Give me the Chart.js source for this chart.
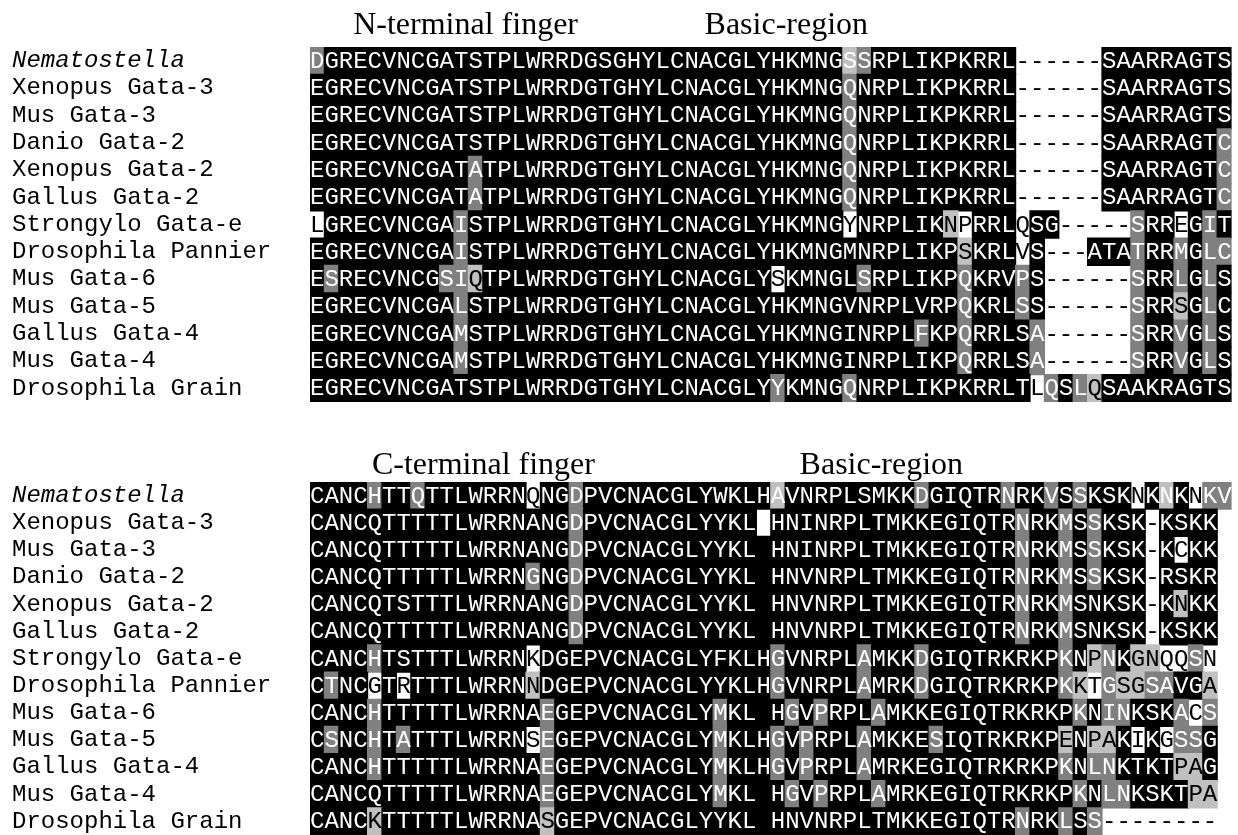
<!DOCTYPE html>
<html>
<head>
<meta charset="utf-8">
<script src="https://cdn.jsdelivr.net/npm/chart.js@4.4.1/dist/chart.umd.min.js"></script>
<style>
  html, body { margin: 0; padding: 0; background: #fff; }
  #wrap { position: relative; width: 1238px; height: 835px; overflow: hidden; }
  .box { position: absolute; left: 0; width: 1238px; }
</style>
</head>
<body>
<div id="wrap">
  <div class="box" style="top:0;height:415px"><canvas id="chartTop" width="1238" height="415"></canvas></div>
  <div class="box" style="top:415px;height:420px"><canvas id="chartBottom" width="1238" height="420"></canvas></div>
</div>
<script>
// row labels (same for both blocks)
var species = [
  "Nematostella", "Xenopus Gata-3", "Mus Gata-3", "Danio Gata-2",
  "Xenopus Gata-2", "Gallus Gata-2", "Strongylo Gata-e", "Drosophila Pannier",
  "Mus Gata-6", "Mus Gata-5", "Gallus Gata-4", "Mus Gata-4", "Drosophila Grain"
];

// N-terminal finger block
var topSeqs = [
  "DGRECVNCGATSTPLWRRDGSGHYLCNACGLYHKMNGSSRPLIKPKRRL------SAARRAGTS",
  "EGRECVNCGATSTPLWRRDGTGHYLCNACGLYHKMNGQNRPLIKPKRRL------SAARRAGTS",
  "EGRECVNCGATSTPLWRRDGTGHYLCNACGLYHKMNGQNRPLIKPKRRL------SAARRAGTS",
  "EGRECVNCGATSTPLWRRDGTGHYLCNACGLYHKMNGQNRPLIKPKRRL------SAARRAGTC",
  "EGRECVNCGATATPLWRRDGTGHYLCNACGLYHKMNGQNRPLIKPKRRL------SAARRAGTC",
  "EGRECVNCGATATPLWRRDGTGHYLCNACGLYHKMNGQNRPLIKPKRRL------SAARRAGTC",
  "LGRECVNCGAISTPLWRRDGTGHYLCNACGLYHKMNGYNRPLIKNPRRLQSG-----SRREGIT",
  "EGRECVNCGAISTPLWRRDGTGHYLCNACGLYHKMNGMNRPLIKPSKRLVS---ATATRRMGLC",
  "ESRECVNCGSIQTPLWRRDGTGHYLCNACGLYSKMNGLSRPLIKPQKRVPS------SRRLGLS",
  "EGRECVNCGALSTPLWRRDGTGHYLCNACGLYHKMNGVNRPLVRPQKRLSS------SRRSGLC",
  "EGRECVNCGAMSTPLWRRDGTGHYLCNACGLYHKMNGINRPLFKPQRRLSA------SRRVGLS",
  "EGRECVNCGAMSTPLWRRDGTGHYLCNACGLYHKMNGINRPLIKPQRRLSA------SRRVGLS",
  "EGRECVNCGATSTPLWRRDGTGHYLCNACGLYYKMNGQNRPLIKPKRRLTLQSLQSAAKRAGTS"
];
// shading exceptions: column + class (g dark grey, l light grey, L light grey/white text, w white)
// everything else is black, gaps are white
var topShade = [
  "0g 37L 38g",
  "37g",
  "37g",
  "37g 63g",
  "11g 37g 63g",
  "11g 37g 63g",
  "0w 10g 37w 44l 45w 49w 57g 60w 62g",
  "10g 45l 49w 57g 60g 62g 63g",
  "1g 9g 10g 11l 32w 38g 45g 49g 57g 60g 62g",
  "10g 45g 49g 57g 60l 62g",
  "10g 42g 45g 50g 57g 60g 62g",
  "10g 45g 50g 57g 60g 62g",
  "32g 37g 50w 51g 53g 54l"
];
var topTitles = ["N-terminal finger", "Basic-region"];
var topTitleCols = [3.0, 27.4];

// C-terminal finger block
var bottomSeqs = [
  "CANCHTTQTTLWRRNQNGDPVCNACGLYWKLHAVNRPLSMKKDGIQTRNRKVSSKSKNKNKNKV",
  "CANCQTTTTTLWRRNANGDPVCNACGLYYKL HNINRPLTMKKEGIQTRNRKMSSKSK-KSKK",
  "CANCQTTTTTLWRRNANGDPVCNACGLYYKL HNINRPLTMKKEGIQTRNRKMSSKSK-KCKK",
  "CANCQTTTTTLWRRNGNGDPVCNACGLYYKL HNVNRPLTMKKEGIQTRNRKMSSKSK-RSKR",
  "CANCQTSTTTLWRRNANGDPVCNACGLYYKL HNVNRPLTMKKEGIQTRNRKMSNKSK-KNKK",
  "CANCQTTTTTLWRRNANGDPVCNACGLYYKL HNVNRPLTMKKEGIQTRNRKMSNKSK-KSKK",
  "CANCHTSTTTLWRRNKDGEPVCNACGLYFKLHGVNRPLAMKKDGIQTRKRKPKNPNKGNQQSN",
  "CTNCGTRTTTLWRRNNDGEPVCNACGLYYKLHGVNRPLAMRKDGIQTRKRKPKKTGSGSAVGA",
  "CANCHTTTTTLWRRNAEGEPVCNACGLYMKL HGVPRPLAMKKEGIQTRKRKPKNINKSKACS",
  "CSNCHTATTTLWRRNSEGEPVCNACGLYMKLHGVPRPLAMKKESIQTRKRKPENPAKIKGSSG",
  "CANCHTTTTTLWRRNAEGEPVCNACGLYMKLHGVPRPLAMRKEGIQTRKRKPKNLNKTKTPAG",
  "CANCQTTTTTLWRRNAEGEPVCNACGLYMKL HGVPRPLAMRKEGIQTRKRKPKNLNKSKTPA",
  "CANCKTTTTTLWRRNASGEPVCNACGLYYKL HNVNRPLTMKKEGIQTRNRKLSS--------"
];
var bottomShade = [
  "4g 7g 15w 18g 32L 42g 48g 51g 53g 57w 59L 61w 62g 63g",
  "18g 31w 49g 52g 54g",
  "18g 49g 52g 54g 60w",
  "15g 18g 49g 52g 54g",
  "18g 49g 52g 60l",
  "18g 49g 52g",
  "4g 15w 32g 38g 42g 52g 54l 55g 57l 58l 59w 60w 61g 62w",
  "1g 4w 6w 15l 32g 38g 42g 52g 53l 54w 55g 56l 57l 58g 59g 62l",
  "4g 16g 28g 33g 35g 39g 53g 55g 56g 60g 61w 62g",
  "1g 4g 6g 15w 16g 28g 32g 34g 38g 43g 52l 54l 55l 57w 59w 60g 61g",
  "4g 16g 28g 32g 34g 38g 52g 54g 55g 60l 61l",
  "16g 28g 33g 35g 39g 53g 55g 56g 61l 62l",
  "4l 16l 49g 52g 54g"
];
var bottomTitles = ["C-terminal finger", "Basic-region"];
var bottomTitleCols = [4.3, 34.0];

var fills = { k: "#000000", g: "#808080", l: "#c0c0c0", L: "#c0c0c0", w: "#ffffff" };
var inks = { k: "#ffffff", g: "#ffffff", l: "#000000", L: "#ffffff", w: "#000000" };
var monoFont = "'Liberation Mono', 'Courier New', monospace";
var serifFont = "'Liberation Serif', 'Times New Roman', serif";

function parseShade(list) {
  return list.map(function (s) {
    var m = {};
    s.split(" ").forEach(function (t) {
      if (t) m[parseInt(t, 10)] = t.replace(/[0-9]/g, "");
    });
    return m;
  });
}

function shadeOf(marks, seq, c) {
  if (marks[c]) return marks[c];
  return seq[c] === "-" ? "w" : "k";
}

// merge runs of equal shading into floating bars
function buildCells(seqs, marks) {
  var data = [], colours = [];
  seqs.forEach(function (seq, r) {
    var c = 0;
    while (c < seq.length) {
      var code = shadeOf(marks[r], seq, c);
      var c1 = c + 1;
      while (c1 < seq.length && shadeOf(marks[r], seq, c1) === code) c1++;
      if (code !== "w") {
        data.push({ x: [c, c1], y: species[r] });
        colours.push(fills[code]);
      }
      c = c1;
    }
  });
  return { data: data, colours: colours };
}

// residues and block titles, placed with the chart's own scales
function lettersPlugin(seqs, marks, titles, titleCols, titleGap) {
  return {
    id: "letters",
    afterDatasetsDraw: function (chart) {
      var ctx = chart.ctx;
      var xs = chart.scales.x, ys = chart.scales.y;
      ctx.save();
      ctx.font = "24px " + monoFont;
      ctx.textAlign = "center";
      ctx.textBaseline = "alphabetic";
      seqs.forEach(function (seq, r) {
        var cy = ys.getPixelForValue(r);
        for (var c = 0; c < seq.length; c++) {
          if (seq[c] === " ") continue;
          ctx.fillStyle = inks[shadeOf(marks[r], seq, c)];
          ctx.fillText(seq[c], xs.getPixelForValue(c + 0.5), cy + 7);
        }
      });
      ctx.font = "32px " + serifFont;
      ctx.textAlign = "left";
      ctx.fillStyle = "#000";
      titles.forEach(function (t, i) {
        ctx.fillText(t, xs.getPixelForValue(titleCols[i]), chart.chartArea.top - titleGap);
      });
      ctx.restore();
    }
  };
}

function makeChart(id, seqs, shade, titles, titleCols, pad, titleGap) {
  var marks = parseShade(shade);
  var cells = buildCells(seqs, marks);
  return new Chart(document.getElementById(id).getContext("2d"), {
    type: "bar",
    data: {
      labels: species,
      datasets: [{
        data: cells.data,
        backgroundColor: cells.colours,
        borderWidth: 0,
        inflateAmount: 0.6,
        barPercentage: 1,
        categoryPercentage: 1
      }]
    },
    options: {
      indexAxis: "y",
      responsive: false,
      animation: false,
      layout: { padding: pad },
      plugins: {
        legend: { display: false },
        tooltip: { enabled: false }
      },
      scales: {
        x: { type: "linear", min: 0, max: 64, display: false },
        y: {
          type: "category",
          position: "left",
          grid: { display: false },
          border: { display: false },
          ticks: {
            autoSkip: false,
            crossAlign: "far",
            padding: 0,
            color: "#000",
            font: function (c) {
              return { family: monoFont, size: 24, lineHeight: 1, style: c.index === 0 ? "italic" : "normal" };
            }
          },
          afterFit: function (s) {
            s.width = 298;
            s.paddingTop = 0;
            s.paddingBottom = 0;
          }
        }
      }
    },
    plugins: [lettersPlugin(seqs, marks, titles, titleCols, titleGap)]
  });
}

makeChart("chartTop", topSeqs, topShade, topTitles, topTitleCols,
  { left: 12, right: 6.4, top: 47, bottom: 13 }, 13);
makeChart("chartBottom", bottomSeqs, bottomShade, bottomTitles, bottomTitleCols,
  { left: 12, right: 6.4, top: 67, bottom: 0 }, 8);
</script>
</body>
</html>
